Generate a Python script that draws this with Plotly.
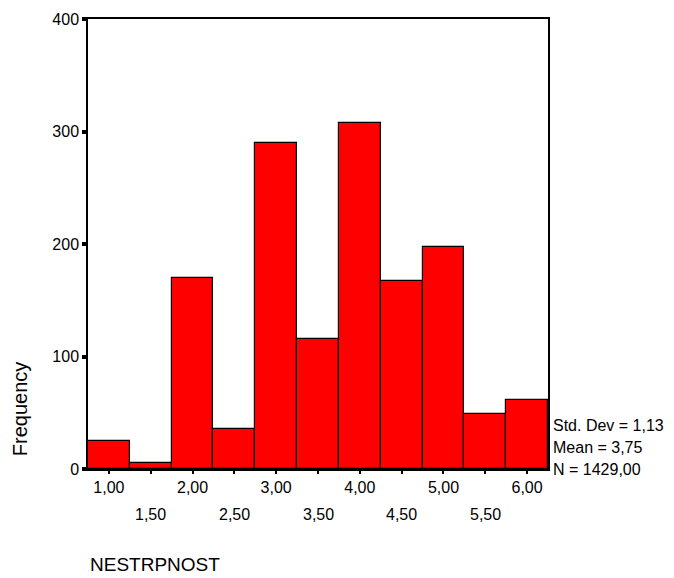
import plotly.graph_objects as go

bin_centers = [1.0, 1.5, 2.0, 2.5, 3.0, 3.5, 4.0, 4.5, 5.0, 5.5, 6.0]
frequencies = [25, 5, 170, 36, 290, 116, 308, 167, 197, 49, 61]
x_tick_labels = ["1,00", "1,50", "2,00", "2,50", "3,00", "3,50", "4,00", "4,50", "5,00", "5,50", "6,00"]
y_ticks = [0, 100, 200, 300, 400]
stats_lines = ["Std. Dev = 1,13", "Mean = 3,75", "N = 1429,00"]

FAM = "Arial, Liberation Sans, sans-serif"
font = dict(family=FAM, size=16, color="black")

# first-row labels on the axis, second-row labels staggered below
ticktext = [t if i % 2 == 0 else "" for i, t in enumerate(x_tick_labels)]

fig = go.Figure()
fig.add_trace(go.Bar(
    x=bin_centers, y=frequencies, width=0.5,
    marker=dict(color="#FF0000", line=dict(color="black", width=1.2)),
))

fig.update_layout(
    width=674, height=578,
    margin=dict(l=88, r=126, t=19, b=109),
    paper_bgcolor="white", plot_bgcolor="white",
    showlegend=False, bargap=0,
    font=font,
    xaxis=dict(range=[0.75, 6.25], tickvals=bin_centers, ticktext=ticktext,
               showgrid=False, zeroline=False, showline=True, linecolor="black",
               linewidth=1.5, mirror=True, ticks="outside", ticklen=3, tickwidth=1.5,
               tickcolor="black", tickfont=font),
    yaxis=dict(range=[0, 400], tickvals=y_ticks, showgrid=False, zeroline=False,
               showline=True, linecolor="black", linewidth=1.5, mirror=True,
               ticks="outside", ticklen=4, tickwidth=4, tickcolor="black",
               tickfont=font),
)

for i, (xv, t) in enumerate(zip(bin_centers, x_tick_labels)):
    if i % 2 == 1:
        fig.add_annotation(text=t, xref="x", yref="paper", x=xv, y=-0.102,
                           xanchor="center", yanchor="middle", showarrow=False, font=font)

fig.add_annotation(text="NESTRPNOST", xref="paper", yref="paper", x=0, y=-0.213,
                   xanchor="left", yanchor="middle", showarrow=False,
                   font=dict(family=FAM, size=19, color="black"))
fig.add_annotation(text="Frequency", xref="paper", yref="paper", x=-0.148, y=0.135,
                   xanchor="center", yanchor="middle", textangle=-90, showarrow=False,
                   font=dict(family=FAM, size=20, color="black"))
for s, yv in zip(stats_lines, [0.0956, 0.0467, -0.002]):
    fig.add_annotation(text=s, xref="paper", yref="paper", x=1, xshift=3, y=yv,
                       xanchor="left", yanchor="middle", showarrow=False, font=font)

fig.write_html("out.html", config={"displayModeBar": False},
               post_script="document.body.style.margin='0';")
